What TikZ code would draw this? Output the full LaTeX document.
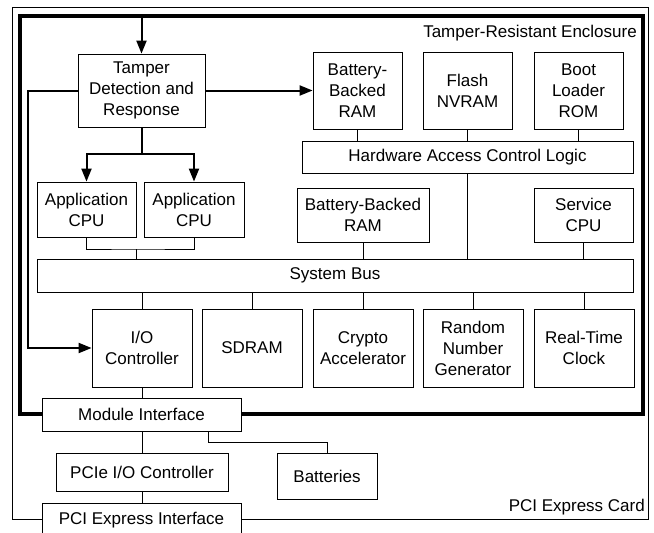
\documentclass[tikz,border=0pt]{standalone}
\usepackage{fontspec}
\setmainfont{Liberation Sans}
\usetikzlibrary{arrows.meta}
\begin{document}
\begin{tikzpicture}[x=1pt,y=-1pt,
  box/.style={draw, line width=0.8pt, fill=white, inner sep=0pt, align=center, font=\fontsize{17}{21}\selectfont},
  conn/.style={line width=0.8pt},
  thickln/.style={line width=2pt},
  arr/.style={line width=2pt, -{Triangle[length=13pt,width=10pt]}},
  lbl/.style={inner sep=0pt, font=\fontsize{17}{21}\selectfont}]
\useasboundingbox (0,0) rectangle (654,533);
% card and enclosure
\draw[line width=0.8pt] (12,7) rectangle (648,519);
\draw[line width=3.3pt] (20,16) rectangle (643,414);
\node[lbl, anchor=base east] (enclbl) at (637,37.5) {Tamper-Resistant Enclosure};
\node[lbl, anchor=base east] (cardlbl) at (645,511) {PCI Express Card};
% nodes
\node[box, minimum width=127, minimum height=73] (tamper) at (141.5,90.5) {Tamper\\Detection and\\Response};
\node[box, minimum width=99, minimum height=55] (app1) at (86.5,209.5) {Application\\CPU};
\node[box, minimum width=100, minimum height=55] (app2) at (194,209.5) {Application\\CPU};
\node[box, minimum width=89, minimum height=77] (bbram1) at (357.5,90.5) {Battery-\\Backed\\RAM};
\node[box, minimum width=89, minimum height=77] (flash) at (467.5,90.5) {Flash\\NVRAM};
\node[box, minimum width=89, minimum height=77] (boot) at (578.5,90.5) {Boot\\Loader\\ROM};
\node[box, minimum width=331, minimum height=32] (hacl) at (467.5,157) {Hardware Access Control Logic};
\node[box, minimum width=132, minimum height=54] (bbram2) at (363,215) {Battery-Backed\\RAM};
\node[box, minimum width=99, minimum height=54] (service) at (583.5,215) {Service\\CPU};
\node[box, minimum width=596, minimum height=33] (bus) at (335,275.5) {System Bus};
\node[box, minimum width=100, minimum height=78] (io) at (142,348) {I/O\\Controller};
\node[box, minimum width=100, minimum height=78] (sdram) at (252,348) {SDRAM};
\node[box, minimum width=100, minimum height=78] (crypto) at (363,348) {Crypto\\Accelerator};
\node[box, minimum width=100, minimum height=78] (rng) at (473,348) {Random\\Number\\Generator};
\node[box, minimum width=100, minimum height=78] (rtc) at (584,348) {Real-Time\\Clock};
\node[box, minimum width=199, minimum height=33] (modif) at (141.5,414.5) {Module Interface};
\node[box, minimum width=172, minimum height=38] (pcieio) at (142,472) {PCIe I/O Controller};
\node[box, minimum width=100, minimum height=46] (batt) at (327,476) {Batteries};
\node[box, minimum width=199, minimum height=34] (pciexp) at (141.5,520) {PCI Express Interface};
% tamper arrows
\coordinate (enctop) at (141.5,16);
\draw[arr] (enctop) -- (tamper.north);
\coordinate (split) at (141.5,154);
\draw[thickln] (tamper.south) -- (split);
\draw[arr] (split) -| (app1.north);
\draw[arr] (split) -| (app2.north);
\draw[arr] (tamper.east) -- (tamper.east -| bbram1.west);
\coordinate (leftturn) at (28,90.5);
\draw[arr] (tamper.west) -- (leftturn) |- (io.west);
% app CPUs to bus
\coordinate (appjoin) at (136,249);
\draw[conn] (app1.south) |- (appjoin) -| (app2.south);
\draw[conn] (appjoin) -- (appjoin |- bus.north);
% top boxes to HACL
\draw[conn] (bbram1.south) -- (bbram1.south |- hacl.north);
\draw[conn] (flash.south) -- (flash.south |- hacl.north);
\draw[conn] (boot.south) -- (boot.south |- hacl.north);
\draw[conn] (hacl.south) -- (hacl.south |- bus.north);
\draw[conn] (bbram2.south) -- (bbram2.south |- bus.north);
\draw[conn] (service.south) -- (service.south |- bus.north);
% bus to bottom row
\foreach \n in {io,sdram,crypto,rng,rtc}
  \draw[conn] (\n.north |- bus.south) -- (\n.north);
% lower chain
\draw[conn] (io.south) -- (io.south |- modif.north);
\draw[conn] (pcieio.north |- modif.south) -- (pcieio.north);
\draw[conn] (pcieio.south) -- (pcieio.south |- pciexp.north);
\coordinate (mb) at (208,431);
\draw[conn] (mb) -- ++(0,11) -| (batt.north);
\end{tikzpicture}
\end{document}
